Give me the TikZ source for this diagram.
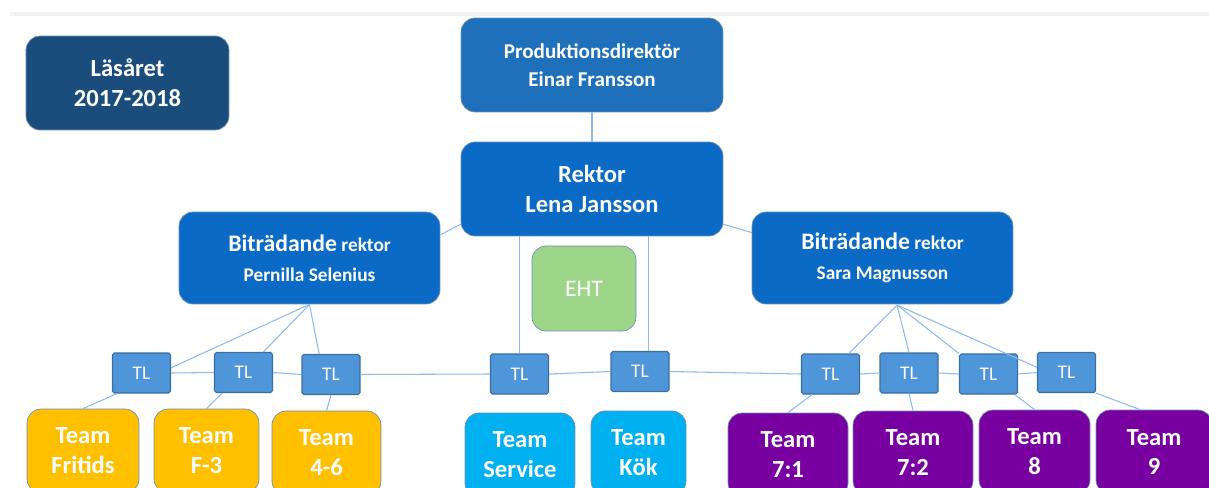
\documentclass[tikz,border=0pt]{standalone}
\usepackage{fontspec}
\setmainfont{Carlito}
\usetikzlibrary{positioning}

\definecolor{lasfarg}{HTML}{1A4C7C}
\definecolor{prodfarg}{HTML}{1E70BA}
\definecolor{rektorfarg}{HTML}{0A6AC5}
\definecolor{ehtfarg}{HTML}{9ED689}
\definecolor{tlfarg}{HTML}{4E95D9}
\definecolor{tlkant}{HTML}{3A6E9F}
\definecolor{gulfarg}{HTML}{FFC000}
\definecolor{cyanfarg}{HTML}{00B0F0}
\definecolor{lilafarg}{HTML}{7800A0}
\definecolor{kantfarg}{HTML}{6A8FB5}
\definecolor{linjefarg}{HTML}{8EB9E8}

\begin{document}
\begin{tikzpicture}[x=0.02cm, y=-0.02cm,
    chef/.style={rectangle, rounded corners=8pt, fill=rektorfarg, draw=kantfarg, line width=0.4pt, text=white, font=\bfseries, align=center, minimum width=5.24cm, minimum height=1.88cm, inner sep=0pt},
    tlbox/.style={rectangle, rounded corners=1pt, fill=tlfarg, draw=tlkant, line width=0.6pt, text=white, minimum width=1.16cm, minimum height=0.8cm, inner sep=0pt, font=\fontsize{11}{13}\selectfont},
    team/.style={rectangle, rounded corners=8pt, draw=kantfarg, line width=0.4pt, text=white, align=center, minimum height=1.68cm, inner sep=0pt, font=\bfseries\fontsize{14}{17}\selectfont},
    linje/.style={draw=linjefarg, line width=0.6pt}]
    \useasboundingbox (0,0) rectangle (1209,487);
    \clip (0,0) rectangle (1209,487);
    \draw[black!5, line width=2pt] (10,14) -- (1209,14);

    % ledning
    \node[chef, fill=lasfarg, minimum width=4.06cm, font=\bfseries\fontsize{14}{17}\selectfont] (lasaret) at (127.5,83) {Läsåret\\2017-2018};
    \node[chef, fill=prodfarg, font=\bfseries\fontsize{12}{16}\selectfont] (prod) at (592,65) {Produktionsdirektör\\Einar Fransson};
    \node[chef, font=\bfseries\fontsize{14}{17}\selectfont] (rektor) at (592,189) {Rektor\\Lena Jansson};
    \node[chef, minimum width=5.22cm, minimum height=1.84cm, font=\bfseries\fontsize{11}{17}\selectfont] (bitrV) at (309.5,258) {{\fontsize{13.5}{17}\selectfont Biträdande} rektor\\Pernilla Selenius};
    \node[chef, minimum width=5.22cm, minimum height=1.84cm, font=\bfseries\fontsize{11}{17}\selectfont] (bitrH) at (882.5,258) {{\fontsize{13.5}{17}\selectfont Biträdande} rektor\\Sara Magnusson};
    \node[chef, fill=ehtfarg, minimum width=2.08cm, minimum height=1.7cm, font=\fontsize{13.5}{16}\selectfont] (eht) at (584,288.5) {EHT};
    \coordinate (hpunkt) at (897,305);

    % teamledare
    \node[tlbox] (tl1) at (141.5,373) {TL};
    \node[tlbox] (tl2) at (243.5,372.5) {TL};
    \node[tlbox] (tl3) at (331,374.5) {TL};
    \node[tlbox] (tl4) at (519.5,374) {TL};
    \node[tlbox] (tl5) at (640,371.5) {TL};
    \node[tlbox] (tl6) at (830.5,374) {TL};
    \node[tlbox] (tl7) at (909,373) {TL};
    \node[tlbox] (tl8) at (988.5,374) {TL};
    \node[tlbox] (tl9) at (1066.5,372.5) {TL};

    % team
    \node[team, fill=gulfarg, minimum width=2.24cm] (fritids) at (83,451) {Team\\Fritids};
    \node[team, fill=gulfarg, minimum width=2.1cm] (f3) at (206.5,451) {Team\\F-3};
    \node[team, fill=gulfarg, minimum width=2.18cm] (fyrsex) at (326.5,453) {Team\\4-6};
    \node[team, fill=cyanfarg, minimum width=2.2cm] (service) at (520,455) {Team\\Service};
    \node[team, fill=cyanfarg, minimum width=1.9cm] (kok) at (638.5,453) {Team\\Kök};
    \node[team, fill=lilafarg, minimum width=2.4cm] (sju1) at (788,455) {Team\\7:1};
    \node[team, fill=lilafarg, minimum width=2.4cm] (sju2) at (913,453) {Team\\7:2};
    \node[team, fill=lilafarg, minimum width=2.22cm] (atta) at (1034.5,452) {Team\\8};
    \node[team, fill=lilafarg, minimum width=2.32cm] (nio) at (1154,452) {Team\\9};

    % linjer
    \draw[linje] (prod.south) -- (rektor.north);
    \draw[linje] (rektor.195) -- (bitrV.10);
    \draw[linje] (rektor.345) -- (bitrH.169);
    \draw[linje] (tl4.north) -- (tl4.north |- rektor.south);
    \draw[linje] (tl5.68) -- (tl5.68 |- rektor.south);
    \draw[linje] (tl1.east) -- (tl2.west);
    \draw[linje] (tl2.east) -- (tl3.west);
    \draw[linje] (tl3.east) -- (tl4.west);
    \draw[linje] (tl4.east) -- (tl5.west);
    \draw[linje] (tl5.east) -- (tl6.west);
    \draw[linje] (tl6.east) -- (tl7.west);
    \draw[linje] (tl7.east) -- (tl8.west);
    \draw[linje] (tl8.east) -- (tl9.west);
    \draw[linje] (bitrV.south) -- (tl1.10);
    \draw[linje] (bitrV.south) -- (tl2.46);
    \draw[linje] (bitrV.south) -- (tl3.120);
    \draw[linje] (tl1.220) -- (fritids.north);
    \draw[linje] (tl2.224) -- (f3.north);
    \draw[linje] (tl3.south) -- (fyrsex.north);
    \draw[linje] (hpunkt) -- (tl6.48);
    \draw[linje] (hpunkt) -- (tl7.north);
    \draw[linje] (hpunkt) -- (tl8.north west);
    \draw[linje] (hpunkt) -- (tl9.170);
    \draw[linje] (tl6.228) -- (sju1.north);
    \draw[linje] (tl7.south) -- (sju2.north);
    \draw[linje] (tl8.322) -- (atta.north);
    \draw[linje] (tl9.325) -- (nio.108);
\end{tikzpicture}
\end{document}
